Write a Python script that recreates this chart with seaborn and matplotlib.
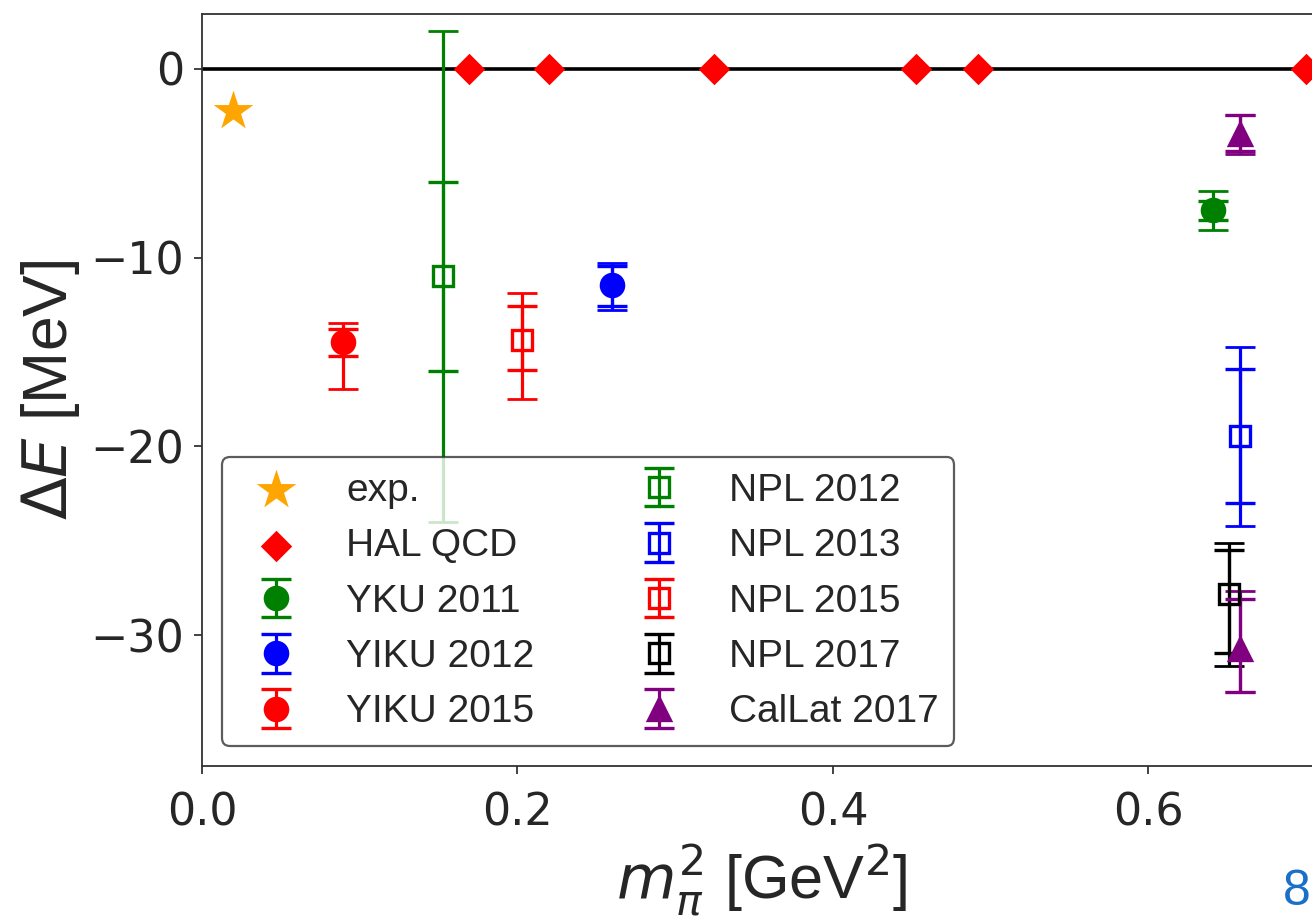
import numpy as np
import matplotlib
matplotlib.use("Agg")
import matplotlib.pyplot as plt
import seaborn as sns

# ---------------- data ----------------
exp_x = [0.0195]
exp_y = [-2.22]

hal_x = [0.169, 0.220, 0.3245, 0.4525, 0.492, 0.700]
hal_y = [0.0, 0.0, 0.0, 0.0, 0.0, 0.0]

# name: x, y, inner(lower, upper), outer(lower, upper)
yku2011_x = [0.641]
yku2011_y = [-7.5]
yku2011_in = ([0.5], [0.5])
yku2011_out = ([1.03], [1.03])

yiku2012_x = [0.260]
yiku2012_y = [-11.45]
yiku2012_in = ([1.14], [1.03])
yiku2012_out = ([1.34], [1.19])

yiku2015_x = [0.0894]
yiku2015_y = [-14.47]
yiku2015_in = ([0.73], [0.67])
yiku2015_out = ([2.49], [1.02])

npl2012_x = [0.1527]
npl2012_y = [-11.0]
npl2012_in = ([5.0], [5.0])
npl2012_out = ([13.0], [13.0])

npl2013_x = [0.658]
npl2013_y = [-19.45]
npl2013_in = ([3.55], [3.55])
npl2013_out = ([4.75], [4.74])

npl2015_x = [0.2026]
npl2015_y = [-14.36]
npl2015_in = ([1.62], [1.77])
npl2015_out = ([3.14], [2.51])

npl2017_x = [0.651]
npl2017_y = [-27.82]
npl2017_in = ([3.11], [2.30])
npl2017_out = ([3.80], [2.69])

callat_x = [0.658, 0.658]
callat_y = [-3.46, -30.74]
callat_in = ([0.87, 2.29], [1.02, 2.64])
callat_out = ([1.04, 2.29], [1.02, 3.10])

xticks = [0.0, 0.2, 0.4, 0.6]
xtick_labels = ["0.0", "0.2", "0.4", "0.6"]
yticks = [-30, -20, -10, 0]
ytick_labels = ["\u221230", "\u221220", "\u221210", "0"]

# ---------------- style ----------------
sns.set_theme(style="ticks")
plt.rcParams["font.family"] = ["Liberation Sans", "DejaVu Sans"]
plt.rcParams["mathtext.fontset"] = "dejavusans"

W, H = 1312, 917
fig = plt.figure(figsize=(W / 100, H / 100), dpi=100)
ax = fig.add_axes([202 / W, 1 - 766 / H, 1120 / W, 752 / H])

ax.axhline(0, color="black", lw=2.6, zorder=2)

sns.scatterplot(x=exp_x, y=exp_y, marker="*", s=900, color="orange",
                linewidth=0, ax=ax, zorder=5)
h_exp = ax.collections[-1]
sns.scatterplot(x=hal_x, y=hal_y, marker="D", s=256, color="red",
                linewidth=0, ax=ax, zorder=5)
h_hal = ax.collections[-1]

ELW = 2.3
CAP = 11
CT = 2.0


def eb(x, y, err_in, err_out, color, marker, filled, ms):
    mfc = color if filled else "none"
    ax.errorbar(x, y, yerr=[err_out[0], err_out[1]], fmt="none", ecolor=color,
                elinewidth=ELW, capsize=CAP, capthick=CT, zorder=3)
    h = ax.errorbar(x, y, yerr=[err_in[0], err_in[1]], fmt=marker, color=color,
                    mfc=mfc, mec=color, ms=ms, mew=2.4, elinewidth=ELW,
                    capsize=CAP, capthick=CT, zorder=4)
    return h


h1 = eb(yku2011_x, yku2011_y, yku2011_in, yku2011_out, "green", "o", True, 16)
h2 = eb(yiku2012_x, yiku2012_y, yiku2012_in, yiku2012_out, "blue", "o", True, 16)
h3 = eb(yiku2015_x, yiku2015_y, yiku2015_in, yiku2015_out, "red", "o", True, 16)
h4 = eb(npl2012_x, npl2012_y, npl2012_in, npl2012_out, "green", "s", False, 15)
h5 = eb(npl2013_x, npl2013_y, npl2013_in, npl2013_out, "blue", "s", False, 15)
h6 = eb(npl2015_x, npl2015_y, npl2015_in, npl2015_out, "red", "s", False, 15)
h7 = eb(npl2017_x, npl2017_y, npl2017_in, npl2017_out, "black", "s", False, 15)
h8 = eb(callat_x, callat_y, callat_in, callat_out, "purple", "^", True, 16)

ax.set_xlim(0, 0.71)
ax.set_ylim(-36.94, 2.91)

ax.set_xticks(xticks, labels=xtick_labels, fontfamily="DejaVu Sans", fontsize=32)
ax.set_yticks(yticks, labels=ytick_labels, fontfamily="DejaVu Sans", fontsize=32)
ax.tick_params(axis="both", direction="out", length=6, width=1.3,
               color="0.2", labelcolor="0.15")
ax.tick_params(axis="x", pad=12)
ax.tick_params(axis="y", pad=7)
for sp in ax.spines.values():
    sp.set_linewidth(1.3)
    sp.set_color("0.2")

ax.set_ylabel(r"$\Delta E$ [MeV]", fontsize=45, color="0.15", labelpad=6)
ax.set_xlabel(r"$m_\pi^2$ [GeV$^2$]", fontsize=44, color="0.15", labelpad=6)

handles = [h_exp, h_hal, h1, h2, h3, h4, h5, h6, h7, h8]
labels = ["exp.", "HAL QCD", "YKU 2011", "YIKU 2012", "YIKU 2015",
          "NPL 2012", "NPL 2013", "NPL 2015", "NPL 2017", "CalLat 2017"]
leg = ax.legend(handles, labels, ncol=2, fontsize=28, loc="lower left",
                bbox_to_anchor=(222 / W, 1 - 746 / H),
                bbox_transform=fig.transFigure, borderaxespad=0,
                labelspacing=0.5, columnspacing=2.2, handletextpad=0.8,
                handlelength=2.0, borderpad=0.4, frameon=True, fancybox=True,
                framealpha=0.8)
leg.get_frame().set_edgecolor("0.2")
leg.get_frame().set_linewidth(1.6)
for t in leg.get_texts():
    t.set_color("0.15")

fig.text(0.999, 0.002, "8", color="#1a6fc9", fontsize=36, ha="right", va="bottom")

fig.savefig("out.png", dpi=100)
